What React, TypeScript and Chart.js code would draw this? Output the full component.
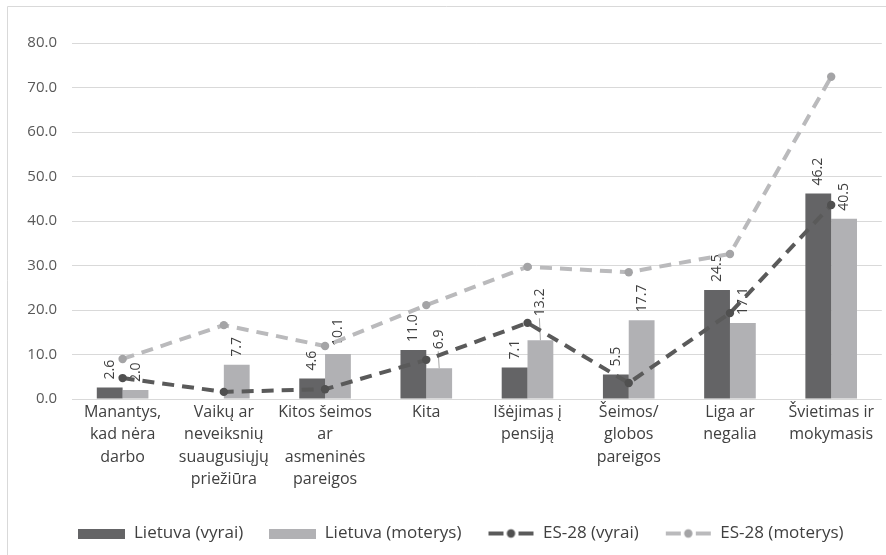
import React, { useEffect, useRef } from "react";
import { Chart, registerables } from "chart.js";

Chart.register(...registerables);

const categories: string[][] = [
  ["Manantys,", "kad nėra", "darbo"],
  ["Vaikų ar", "neveiksnių", "suaugusiųjų", "priežiūra"],
  ["Kitos šeimos", "ar", "asmeninės", "pareigos"],
  ["Kita"],
  ["Išėjimas į", "pensiją"],
  ["Šeimos/", "globos", "pareigos"],
  ["Liga ar", "negalia"],
  ["Švietimas ir", "mokymasis"],
];

const seriesNames = ["Lietuva (vyrai)", "Lietuva (moterys)", "ES-28 (vyrai)", "ES-28 (moterys)"];

const ltMen: (number | null)[] = [2.6, null, 4.6, 11.0, 7.1, 5.5, 24.5, 46.2];
const ltWomen: number[] = [2.0, 7.7, 10.1, 6.9, 13.2, 17.7, 17.1, 40.5];
const euMen: number[] = [4.7, 1.6, 2.2, 8.8, 17.1, 3.6, 19.3, 43.6];
const euWomen: number[] = [9.0, 16.6, 11.9, 21.1, 29.7, 28.5, 32.6, 72.4];

const yMin = 0;
const yMax = 80;
const yStep = 10;

// styling
const DARK_BAR = "#646466";
const LIGHT_BAR = "#b1b1b4";
const DARK_LINE = "#5a5a5a";
const DARK_POINT = "#505050";
const LIGHT_LINE = "#bababc";
const LIGHT_POINT = "#a4a4a6";
const GRID = "#d9d9d9";
const FONT = "'Open Sans', 'DejaVu Sans', sans-serif";

// label nudges (extra lift in px, with leader line) keyed "dataset-index"
const labelLift: Record<string, number> = { "1-4": 16, "1-3": 11 };

function makeBoxIcon(color: string): HTMLCanvasElement {
  const c = document.createElement("canvas");
  c.width = 47;
  c.height = 10;
  const ctx = c.getContext("2d")!;
  ctx.fillStyle = color;
  ctx.fillRect(0, 0, 47, 10);
  return c;
}

function makeLineIcon(lineColor: string, pointColor: string): HTMLCanvasElement {
  const c = document.createElement("canvas");
  c.width = 47;
  c.height = 12;
  const ctx = c.getContext("2d")!;
  ctx.strokeStyle = lineColor;
  ctx.lineWidth = 4;
  ctx.beginPath();
  ctx.moveTo(1, 6);
  ctx.lineTo(16, 6);
  ctx.moveTo(20, 6);
  ctx.lineTo(27, 6);
  ctx.moveTo(31, 6);
  ctx.lineTo(46, 6);
  ctx.stroke();
  ctx.fillStyle = pointColor;
  ctx.beginPath();
  ctx.arc(23.5, 6, 4.2, 0, Math.PI * 2);
  ctx.fill();
  return c;
}

const framePlugin = {
  id: "frame",
  afterLayout(chart: any) {
    if (chart.legend) {
      chart.legend.left += 19;
      chart.legend.right += 19;
    }
  },
  beforeDraw(chart: any) {
    const ctx = chart.ctx;
    ctx.save();
    ctx.strokeStyle = GRID;
    ctx.lineWidth = 1;
    ctx.beginPath();
    ctx.moveTo(7.5, chart.height);
    ctx.lineTo(7.5, 6.5);
    ctx.lineTo(chart.width, 6.5);
    ctx.stroke();
    ctx.restore();
  },
};

const barLabelPlugin = {
  id: "barLabels",
  afterDatasetDraw(chart: any, args: any) {
    const ds = chart.data.datasets[args.index];
    if (ds.type !== "bar") return;
    const meta = args.meta;
    const ctx = chart.ctx;
    ctx.save();
    ctx.font = `14px ${FONT}`;
    ctx.fillStyle = "#404040";
    ctx.textAlign = "left";
    ctx.textBaseline = "middle";
    meta.data.forEach((el: any, i: number) => {
      const v = ds.data[i];
      if (v === null || v === undefined) return;
      const lift = labelLift[`${args.index}-${i}`] || 0;
      const gap = 8;
      const x = el.x;
      const y = el.y - gap - lift;
      if (lift > 0) {
        ctx.save();
        ctx.strokeStyle = "#a6a6a6";
        ctx.lineWidth = 1;
        ctx.beginPath();
        ctx.moveTo(x, el.y);
        ctx.lineTo(x - 1, y + 2);
        ctx.stroke();
        ctx.restore();
      }
      ctx.save();
      ctx.translate(x, y);
      ctx.rotate(-Math.PI / 2);
      ctx.fillText(Number(v).toFixed(1), 0, 0);
      ctx.restore();
    });
    ctx.restore();
  },
};

export default function App() {
  const ref = useRef<HTMLCanvasElement | null>(null);

  useEffect(() => {
    if (!ref.current) return;
    Chart.defaults.font.family = FONT;
    const icons = [
      makeBoxIcon(DARK_BAR),
      makeBoxIcon(LIGHT_BAR),
      makeLineIcon(DARK_LINE, DARK_POINT),
      makeLineIcon(LIGHT_LINE, LIGHT_POINT),
    ];

    const chart = new Chart(ref.current, {
      type: "bar",
      data: {
        labels: categories as any,
        datasets: [
          {
            type: "bar",
            label: seriesNames[0],
            data: ltMen,
            backgroundColor: DARK_BAR,
            order: 2,
            categoryPercentage: 0.51,
            barPercentage: 1,
          },
          {
            type: "bar",
            label: seriesNames[1],
            data: ltWomen,
            backgroundColor: LIGHT_BAR,
            order: 2,
            categoryPercentage: 0.51,
            barPercentage: 1,
          },
          {
            type: "line",
            label: seriesNames[2],
            data: euMen,
            borderColor: DARK_LINE,
            borderWidth: 4,
            borderDash: [12, 8],
            pointRadius: 4.2,
            pointBackgroundColor: DARK_POINT,
            pointBorderWidth: 0,
            tension: 0,
            order: 1,
          },
          {
            type: "line",
            label: seriesNames[3],
            data: euWomen,
            borderColor: LIGHT_LINE,
            borderWidth: 4,
            borderDash: [12, 8],
            pointRadius: 4.2,
            pointBackgroundColor: LIGHT_POINT,
            pointBorderWidth: 0,
            tension: 0,
            order: 0,
          },
        ] as any,
      },
      options: {
        responsive: false,
        animation: false,
        events: [],
        layout: { padding: { left: 0, right: 2, top: 43, bottom: 3 } },
        scales: {
          x: {
            grid: { display: false, drawTicks: false },
            border: { display: false },
            ticks: {
              color: "#404040",
              font: { size: 16, lineHeight: 1.4 },
              padding: 2,
              maxRotation: 0,
              autoSkip: false,
            },
            afterFit(scale: any) {
              scale.height = 100;
            },
          },
          y: {
            min: yMin,
            max: yMax,
            grid: { color: GRID, drawTicks: false, lineWidth: 1 },
            border: { display: false },
            ticks: {
              stepSize: yStep,
              color: "#595959",
              font: { size: 15 },
              padding: 15,
              callback: (v: any) => Number(v).toFixed(1),
            },
            afterFit(scale: any) {
              scale.width = 72;
            },
          },
        },
        plugins: {
          tooltip: { enabled: false },
          legend: {
            position: "bottom",
            labels: {
              usePointStyle: true,
              pointStyleWidth: 47,
              padding: 26,
              color: "#404040",
              font: { size: 17 },
              generateLabels(c: any) {
                const items = (Chart.defaults.plugins.legend.labels as any).generateLabels(c);
                items.sort((a: any, b: any) => a.datasetIndex - b.datasetIndex);
                items.forEach((it: any) => {
                  it.pointStyle = icons[it.datasetIndex];
                });
                return items;
              },
            },
          },
        },
      } as any,
      plugins: [framePlugin, barLabelPlugin],
    });
    return () => chart.destroy();
  }, []);

  return (
    <div style={{ position: "absolute", left: 0, top: 0, width: 886, height: 555, background: "#fff" }}>
      <canvas ref={ref} width={886} height={555} style={{ display: "block" }} />
    </div>
  );
}
